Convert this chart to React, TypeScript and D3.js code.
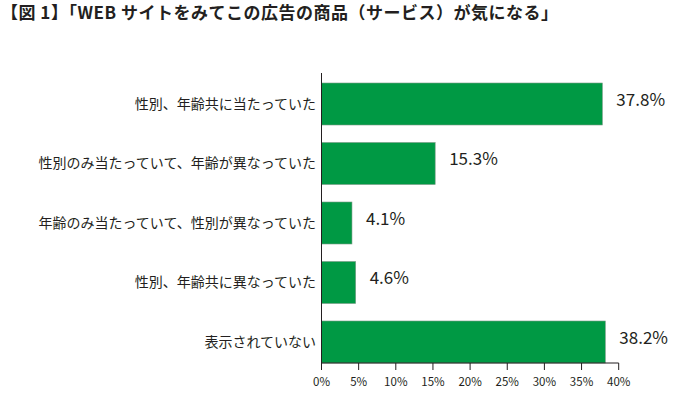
import React from "react";
import * as d3 from "d3";

const categories = [
  "性別、年齢共に当たっていた",
  "性別のみ当たっていて、年齢が異なっていた",
  "年齢のみ当たっていて、性別が異なっていた",
  "性別、年齢共に異なっていた",
  "表示されていない",
];
const values = [37.8, 15.3, 4.1, 4.6, 38.2];
const ticks = [0, 5, 10, 15, 20, 25, 30, 35, 40];
const title = "【図 1】「WEB サイトをみてこの広告の商品（サービス）が気になる」";

export default function App() {
  const W = 699, H = 393;
  const x = d3.scaleLinear().domain([0, 40]).range([321.5, 618.7]);
  const y = d3
    .scaleBand<string>()
    .domain(categories)
    .range([74.25, 371.75])
    .paddingInner(0.294)
    .paddingOuter(0.147);
  const axisY = 363;
  const font = "'Noto Sans CJK JP', 'Noto Sans', sans-serif";
  const text = "#231f20";
  return (
    <svg width={W} height={H} style={{ position: "absolute", left: 0, top: 0 }} fontFamily={font}>
      <rect width={W} height={H} fill="#fff" />
      <text x={1} y={18.5} fontSize={17} fontWeight="bold" fill={text} textLength={557} lengthAdjust="spacing">
        {title}
      </text>
      {categories.map((c, i) => (
        <g key={c}>
          <rect
            x={x(0)}
            y={y(c)!}
            width={x(values[i]) - x(0)}
            height={y.bandwidth()}
            fill="#009944"
            stroke="#7a9a86"
            strokeWidth={0.6}
          />
          <text
            x={316}
            y={y(c)! + y.bandwidth() / 2}
            dy="0.35em"
            textAnchor="end"
            fontSize={14}
            fill={text}
          >
            {c}
          </text>
          <text
            x={x(values[i]) + 14}
            y={y(c)! + y.bandwidth() / 2 - 4}
            dy="0.35em"
            fontSize={17}
            fill={text}
          >
            {values[i].toFixed(1)}%
          </text>
        </g>
      ))}
      <line x1={x(0)} x2={x(0)} y1={73} y2={axisY} stroke={text} strokeWidth={1} />
      <line x1={x(0)} x2={x(40)} y1={axisY} y2={axisY} stroke={text} strokeWidth={1} />
      {ticks.map((t) => (
        <g key={t}>
          <line x1={x(t)} x2={x(t)} y1={axisY} y2={370} stroke={text} strokeWidth={1} />
          <text x={x(t)} y={386} textAnchor="middle" fontSize={11.5} fill={text}>
            {t}%
          </text>
        </g>
      ))}
    </svg>
  );
}
